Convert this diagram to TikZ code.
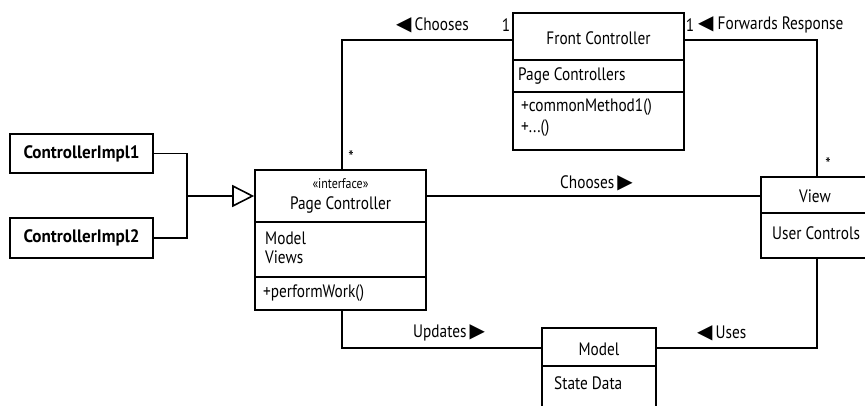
\documentclass[tikz,border=0pt]{standalone}
\usepackage{fontspec}
\setmainfont{PT Sans}[FakeStretch=0.85]
\newfontfamily\implfont{PT Sans}[FakeStretch=0.95]
\newfontfamily\symfont{DejaVu Sans}
\usetikzlibrary{arrows.meta}

\newcommand{\lefttri}{{\symfont\fontsize{20}{20}\selectfont ◀}}
\newcommand{\righttri}{{\symfont\fontsize{20}{20}\selectfont ▶}}

\begin{document}
\begin{tikzpicture}[x=1pt,y=-1pt,
  classbox/.style={draw, line width=1.6pt, inner sep=0pt},
  divider/.style={line width=1.6pt},
  wire/.style={line width=1.6pt},
  txt/.style={font=\fontsize{18}{20}\selectfont, inner sep=0pt},
  small/.style={font=\fontsize{14}{16}\selectfont, inner sep=0pt},
  lefttxt/.style={txt, anchor=west},
  impl/.style={classbox, minimum width=143pt, font=\implfont\bfseries\fontsize{18}{20}\selectfont}]
\clip (0,0) rectangle (865,405);
\fill[white] (0,0) rectangle (865,405);

% Implementing classes
\node[impl, minimum height=39pt] (impl1) at (81.5,153.5) {ControllerImpl1};
\node[impl, minimum height=40pt] (impl2) at (81.5,238) {ControllerImpl2};

% Page Controller interface
\node[classbox, minimum width=171pt, minimum height=140pt] (pc) at (340.5,240) {};
\draw[divider] (pc.west |- 0,222) -- (pc.east |- 0,222);
\draw[divider] (pc.west |- 0,277) -- (pc.east |- 0,277);
\node[small] (pcst) at (340.5,184) {«interface»};
\node[txt] (pcname) at (340.5,205) {Page Controller};
\node[lefttxt] (pcmodel) at (265,238) {Model};
\node[lefttxt] (pcviews) at (265,257) {Views};
\node[lefttxt] (pcop) at (263,293) {+performWork()};

% Front Controller
\node[classbox, minimum width=171pt, minimum height=137pt] (fc) at (598.5,81.5) {};
\draw[divider] (fc.west |- 0,60) -- (fc.east |- 0,60);
\draw[divider] (fc.west |- 0,92) -- (fc.east |- 0,92);
\node[txt] (fcname) at (598.5,38) {Front Controller};
\node[lefttxt] (fcattr) at (518,76) {Page Controllers};
\node[lefttxt] (fcop1) at (521,107) {+commonMethod1()};
\node[lefttxt] (fcop2) at (521,128) {+...()};

% View
\node[classbox, minimum width=109pt, minimum height=81pt] (view) at (815.5,217.5) {};
\draw[divider] (view.west |- 0,213) -- (view.east |- 0,213);
\node[txt] (viewname) at (815,196) {View};
\node[lefttxt] (viewattr) at (772,233) {User Controls};

% Model
\node[classbox, minimum width=114pt, minimum height=82pt] (model) at (599,369) {};
\draw[divider] (model.west |- 0,366) -- (model.east |- 0,366);
\node[txt] (modelname) at (599,349) {Model};
\node[lefttxt] (modelattr) at (554,383) {State Data};

% Generalization
\coordinate (junc) at (187,196);
\draw[wire] (impl1.east) -| (junc);
\draw[wire] (impl2.east) -| (junc);
\draw[wire, -{Triangle[open, length=22pt, width=22pt, line width=1.6pt]}] (junc) -- (pc.west |- junc);

% Associations
\draw[wire] (pc.north -| 342,0) |- (fc.north west |- 0,40);
\draw[wire] (fc.north east |- 0,40) -| (view.north -| 817,0);
\draw[wire] (pc.east |- 0,196) -- (view.west |- 0,196);
\draw[wire] (pc.south -| 342,0) |- (model.west |- 0,348);
\draw[wire] (view.south -| 817,0) |- (model.east |- 0,348);

% Association labels and multiplicities
\node[txt, anchor=west] (lchoose1) at (396,25) {\lefttri\,Chooses};
\node[txt] (m1a) at (506,25) {1};
\node[txt] (m1b) at (351,157) {*};
\node[txt] (m2a) at (690,25) {1};
\node[txt, anchor=west] (lfwd) at (698,25) {\lefttri\ Forwards Response};
\node[txt] (m2b) at (828,164) {*};
\node[txt, anchor=west] (lchoose2) at (560,183) {Chooses\,\righttri};
\node[txt, anchor=west] (lupd) at (413,333) {Updates\,\righttri};
\node[txt, anchor=west] (luses) at (697,333) {\lefttri\,Uses};
\end{tikzpicture}
\end{document}
